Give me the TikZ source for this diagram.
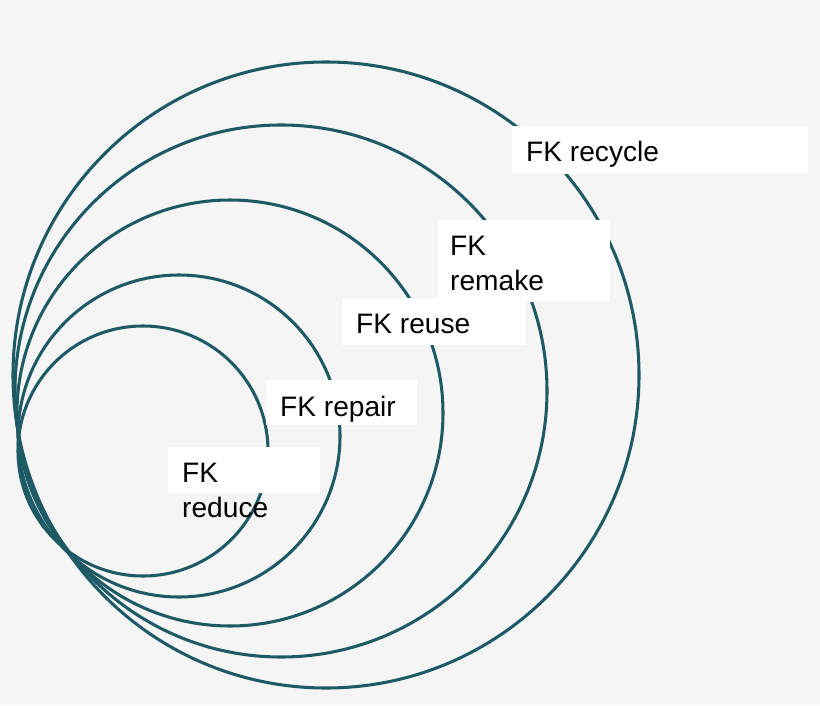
\documentclass[tikz,border=0pt]{standalone}
\usepackage{fontspec}
\setmainfont{Liberation Sans}
\usetikzlibrary{positioning}
\definecolor{ringcol}{HTML}{1D5A66}
\definecolor{bgcol}{HTML}{F5F5F5}
\tikzset{ring/.style={draw=ringcol,line width=2.6pt},
box/.style={fill=white,anchor=north west,inner sep=0pt},
lbl/.style={anchor=north west,align=left,inner sep=0pt,font=\fontsize{24}{30}\selectfont}}

\begin{document}
\begin{tikzpicture}[x=0.03cm,y=-0.03cm]
  \fill [bgcol] (0,0) rectangle (820,705);
  \useasboundingbox (0,0) rectangle (820,705);

  % rings, outer to inner
  \draw [ring] (326,375) circle [radius=313];
  \draw [ring] (281,391) circle [radius=266];
  \draw [ring] (230,413) circle [radius=213];
  \draw [ring] (179,436) circle [radius=161];
  \draw [ring] (143,451) circle [radius=125];

  % label boxes
  \node (recyclebox) [box,minimum width=296*0.03cm,minimum height=48*0.03cm] at (512,126) {};
  \node (remakebox) [box,minimum width=172*0.03cm,minimum height=82*0.03cm] at (438,220) {};
  \node (reusebox) [box,minimum width=184*0.03cm,minimum height=47*0.03cm] at (342,298) {};
  \node (repairbox) [box,minimum width=151*0.03cm,minimum height=45*0.03cm] at (266,380) {};
  \node (reducebox) [box,minimum width=152*0.03cm,minimum height=46*0.03cm] at (168,447) {};

  \node (recycle) [lbl,below right=15*0.03cm and 14*0.03cm of recyclebox.north west] {FK recycle};
  \node (remake) [lbl,below right=16*0.03cm and 12*0.03cm of remakebox.north west] {FK\\remake};
  \node (reuse) [lbl,below right=16*0.03cm and 14*0.03cm of reusebox.north west] {FK reuse};
  \node (repair) [lbl,below right=16*0.03cm and 14*0.03cm of repairbox.north west] {FK repair};
  \node (reduce) [lbl,below right=16*0.03cm and 14*0.03cm of reducebox.north west] {FK\\reduce};
\end{tikzpicture}
\end{document}
